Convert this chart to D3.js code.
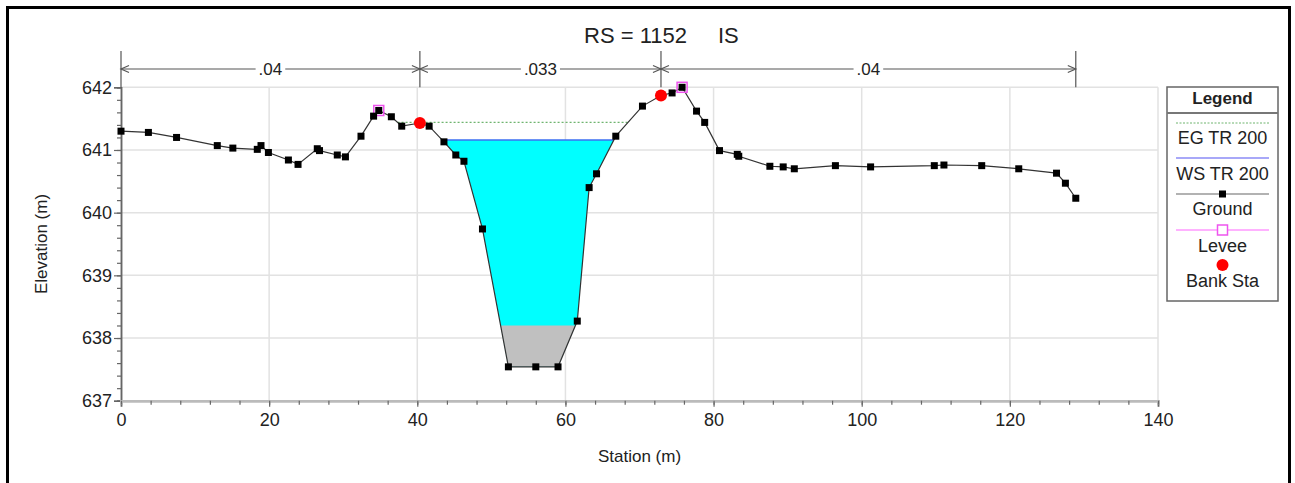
<!DOCTYPE html>
<html>
<head>
<meta charset="utf-8">
<script src="https://cdn.jsdelivr.net/npm/d3@7/dist/d3.min.js"></script>
<style>
  html, body { margin: 0; padding: 0; background: #fff; }
  svg { display: block; }
  text { font-family: "Liberation Sans", Arial, sans-serif; fill: #222; }
</style>
</head>
<body>
<svg id="chart" width="1295" height="483"></svg>
<script>
// ---------- data ----------
const stations = [0, 3.7, 7.5, 13.0, 15.1, 18.4, 18.9, 19.9, 22.6, 23.9, 26.5, 26.8, 29.2, 30.3, 32.4, 34.1, 34.8, 36.5, 37.9, 40.35, 41.6, 43.6, 45.2, 46.3, 48.8, 52.3, 56.0, 59.0, 61.6, 63.2, 64.2, 66.8, 70.4, 72.9, 74.4, 75.75, 77.7, 78.8, 80.8, 83.2, 83.4, 87.6, 89.4, 90.9, 96.45, 101.2, 109.8, 111.1, 116.2, 121.2, 126.3, 127.5, 128.9];
const elevations = [641.30, 641.28, 641.20, 641.07, 641.03, 641.01, 641.07, 640.96, 640.84, 640.77, 641.02, 640.99, 640.92, 640.89, 641.22, 641.54, 641.63, 641.53, 641.38, 641.43, 641.38, 641.13, 640.92, 640.82, 639.74, 637.54, 637.54, 637.54, 638.27, 640.40, 640.62, 641.22, 641.70, 641.87, 641.91, 642.00, 641.62, 641.44, 640.99, 640.93, 640.90, 640.74, 640.73, 640.70, 640.75, 640.73, 640.75, 640.76, 640.75, 640.70, 640.63, 640.47, 640.23];
const leveeStations = [34.8, 75.75];
const leveeElevations = [641.63, 642.00];
const bankStations = [40.35, 72.9];
const bankElevations = [641.43, 641.87];
const wsElevation = 641.16;   // WS TR 200
const egElevation = 641.44;   // EG TR 200
const sedimentElevation = 638.20;
const nBreaks = [0, 40.35, 72.9, 128.9];
const nValues = [".04", ".033", ".04"];
const xTicks = [0, 20, 40, 60, 80, 100, 120, 140];
const yTicks = [637, 638, 639, 640, 641, 642];
const legendLabels = ["EG TR 200", "WS TR 200", "Ground", "Levee", "Bank Sta"];
const titleMain = "RS = 1152";
const titleSuffix = "IS";

// ---------- layout ----------
const svg = d3.select("#chart");
const plotL = 121, plotR = 1158, plotT = 87.3, plotB = 400.7;
const x = d3.scaleLinear().domain([0, 140]).range([plotL, plotR]);
const y = d3.scaleLinear().domain([637, 642]).range([plotB, plotT]);
const ground = stations.map((s, i) => [s, elevations[i]]);

// outer frame
svg.append("rect").attr("x", 7.5).attr("y", 7.5).attr("width", 1282).attr("height", 490)
  .attr("fill", "none").attr("stroke", "#000").attr("stroke-width", 3);

// gridlines
const grid = svg.append("g");
grid.selectAll(".gx").data(xTicks.slice(1)).join("line")
  .attr("x1", d => x(d)).attr("x2", d => x(d)).attr("y1", plotT).attr("y2", plotB)
  .attr("stroke", "#e2e2e2").attr("stroke-width", 1.5);
grid.selectAll(".gy").data(yTicks.slice(1)).join("line")
  .attr("x1", plotL).attr("x2", plotR).attr("y1", d => y(d)).attr("y2", d => y(d))
  .attr("stroke", "#e2e2e2").attr("stroke-width", 1.5);

// crossing helper: from lowest point, search outward for ground reaching a level
const minIdx = d3.minIndex(elevations);
function crossing(level, dir) {
  let i = minIdx;
  while (i + dir >= 0 && i + dir < ground.length && ground[i + dir][1] < level) i += dir;
  const a = ground[i], b = ground[i + dir];
  const t = (level - a[1]) / (b[1] - a[1]);
  return { s: a[0] + t * (b[0] - a[0]), i: i };
}
function poolPolygon(level) {
  const L = crossing(level, -1), R = crossing(level, 1);
  const pts = [[L.s, level]];
  for (let k = L.i; k <= R.i; k++) pts.push(ground[k]);
  pts.push([R.s, level]);
  return { pts, L: L.s, R: R.s };
}
const line = d3.line().x(d => x(d[0])).y(d => y(d[1]));

// water
const water = poolPolygon(wsElevation);
svg.append("path").attr("d", line(water.pts) + "Z").attr("fill", "#00ffff").attr("stroke", "none");
// sediment
const sed = poolPolygon(sedimentElevation);
svg.append("path").attr("d", line(sed.pts) + "Z").attr("fill", "#c0c0c0").attr("stroke", "none");
// WS line
svg.append("line").attr("x1", x(water.L)).attr("x2", x(water.R))
  .attr("y1", y(wsElevation)).attr("y2", y(wsElevation))
  .attr("stroke", "#3d6ef2").attr("stroke-width", 1.5);
// EG line
const egL = crossing(egElevation, -1).s, egR = crossing(egElevation, 1).s;
svg.append("line").attr("x1", x(egL)).attr("x2", x(egR))
  .attr("y1", y(egElevation)).attr("y2", y(egElevation))
  .attr("stroke", "#6fb46f").attr("stroke-width", 1.2).attr("stroke-dasharray", "2,2");

// axes
const axisY = svg.append("g").attr("transform", `translate(${plotL},0)`)
  .call(d3.axisLeft(y).tickValues(yTicks).tickSize(7).tickPadding(2).tickFormat(d3.format("d")));
const axisYMinor = svg.append("g").attr("transform", `translate(${plotL},0)`)
  .call(d3.axisLeft(y).tickValues(d3.range(637, 642.001, 0.2)).tickSize(4).tickFormat(""));
const axisX = svg.append("g").attr("transform", `translate(0,${plotB})`)
  .call(d3.axisBottom(x).tickValues(xTicks).tickSize(6).tickPadding(5).tickFormat(d3.format("d")));
const axisXMinor = svg.append("g").attr("transform", `translate(0,${plotB})`)
  .call(d3.axisBottom(x).tickValues(d3.range(0, 140.001, 4)).tickSize(4).tickFormat(""));
[axisY, axisYMinor].forEach(g => {
  g.select(".domain").attr("stroke", "#666").attr("stroke-width", 1.5);
  g.selectAll(".tick line").attr("stroke", "#666").attr("stroke-width", 1.2);
});
[axisX, axisXMinor].forEach(g => {
  g.select(".domain").attr("stroke", "#bbb").attr("stroke-width", 2.5);
  g.selectAll(".tick line").attr("stroke", "#666").attr("stroke-width", 1.2);
});
svg.selectAll(".tick text").style("font-family", '"Liberation Sans", Arial, sans-serif')
  .style("font-size", "18px").attr("fill", "#222");
axisX.selectAll(".tick text").attr("dy", "0.8em");

// axis titles
svg.append("text").attr("x", (plotL + plotR) / 2).attr("y", 462).attr("text-anchor", "middle")
  .style("font-size", "17px").text("Station (m)");
svg.append("text").attr("transform", `translate(47,${(plotT + plotB) / 2}) rotate(-90)`)
  .attr("text-anchor", "middle").style("font-size", "17px").text("Elevation (m)");

// title
svg.append("text").attr("x", 584).attr("y", 43).style("font-size", "22px").text(titleMain);
svg.append("text").attr("x", 718).attr("y", 43).style("font-size", "22px").text(titleSuffix);

// Manning's n segments
const nG = svg.append("g");
const nY = 69;
nG.append("line").attr("x1", x(nBreaks[0])).attr("x2", x(nBreaks[nBreaks.length - 1]))
  .attr("y1", nY).attr("y2", nY).attr("stroke", "#555").attr("stroke-width", 1.2);
nG.selectAll(".nb").data(nBreaks).join("line")
  .attr("x1", d => x(d)).attr("x2", d => x(d)).attr("y1", 51).attr("y2", plotT)
  .attr("stroke", "#555").attr("stroke-width", 1.2);
nValues.forEach((v, i) => {
  const a = x(nBreaks[i]), b = x(nBreaks[i + 1]);
  nG.append("path").attr("d", `M${a + 8},${nY - 3.5}L${a},${nY}L${a + 8},${nY + 3.5}`)
    .attr("fill", "none").attr("stroke", "#555").attr("stroke-width", 1.2);
  nG.append("path").attr("d", `M${b - 8},${nY - 3.5}L${b},${nY}L${b - 8},${nY + 3.5}`)
    .attr("fill", "none").attr("stroke", "#555").attr("stroke-width", 1.2);
  const t = nG.append("text").attr("x", (a + b) / 2).attr("y", nY + 6).attr("text-anchor", "middle")
    .style("font-size", "17px").text(v);
  const bb = t.node().getBBox();
  nG.insert("rect", "text").attr("x", bb.x - 3).attr("y", nY - 2).attr("width", bb.width + 6)
    .attr("height", 4).attr("fill", "#fff");
});

// ground line + markers
svg.append("path").attr("d", line(ground)).attr("fill", "none")
  .attr("stroke", "#333").attr("stroke-width", 1.2);
svg.selectAll(".lev").data(leveeStations).join("rect")
  .attr("x", (d) => x(d) - 5).attr("y", (d, i) => y(leveeElevations[i]) - 5)
  .attr("width", 10).attr("height", 10).attr("fill", "none")
  .attr("stroke", "#ee55ee").attr("stroke-width", 1.5);
svg.selectAll(".gp").data(ground).join("rect")
  .attr("x", d => x(d[0]) - 3.5).attr("y", d => y(d[1]) - 3.5)
  .attr("width", 7).attr("height", 7).attr("fill", "#000");
svg.selectAll(".bank").data(bankStations).join("circle")
  .attr("cx", d => x(d)).attr("cy", (d, i) => y(bankElevations[i])).attr("r", 6)
  .attr("fill", "#ff0000");

// legend
const lg = svg.append("g");
const lx0 = 1167, lx1 = 1278, ly0 = 87, ly1 = 301;
lg.append("rect").attr("x", lx0).attr("y", ly0).attr("width", lx1 - lx0).attr("height", ly1 - ly0)
  .attr("fill", "#fff").attr("stroke", "#666").attr("stroke-width", 1.5);
lg.append("line").attr("x1", lx0).attr("x2", lx1).attr("y1", 113).attr("y2", 113)
  .attr("stroke", "#777").attr("stroke-width", 2);
lg.append("text").attr("x", (lx0 + lx1) / 2).attr("y", 104).attr("text-anchor", "middle")
  .style("font-size", "17px").style("font-weight", "bold").text("Legend");
const sx0 = 1176, sx1 = 1269, lcx = (lx0 + lx1) / 2;
const rowLineY = [123, 158, 194, 230, 265];
const rowTextY = [144, 180, 215, 252, 287];
legendLabels.forEach((lab, i) => {
  lg.append("text").attr("x", lcx).attr("y", rowTextY[i]).attr("text-anchor", "middle")
    .style("font-size", "18px").text(lab);
});
lg.append("line").attr("x1", sx0).attr("x2", sx1).attr("y1", rowLineY[0]).attr("y2", rowLineY[0])
  .attr("stroke", "#6fb46f").attr("stroke-width", 1).attr("stroke-dasharray", "2,1.5");
lg.append("line").attr("x1", sx0).attr("x2", sx1).attr("y1", rowLineY[1]).attr("y2", rowLineY[1])
  .attr("stroke", "#a8a8f8").attr("stroke-width", 2);
lg.append("line").attr("x1", sx0).attr("x2", sx1).attr("y1", rowLineY[2]).attr("y2", rowLineY[2])
  .attr("stroke", "#999").attr("stroke-width", 1.5);
lg.append("rect").attr("x", lcx - 3.5).attr("y", rowLineY[2] - 3.5).attr("width", 7).attr("height", 7).attr("fill", "#000");
lg.append("line").attr("x1", sx0).attr("x2", sx1).attr("y1", rowLineY[3]).attr("y2", rowLineY[3])
  .attr("stroke", "#ff99ff").attr("stroke-width", 1.5);
lg.append("rect").attr("x", lcx - 5).attr("y", rowLineY[3] - 5).attr("width", 10).attr("height", 10)
  .attr("fill", "#fff").attr("stroke", "#ee55ee").attr("stroke-width", 1.5);
lg.append("circle").attr("cx", lcx).attr("cy", rowLineY[4]).attr("r", 6).attr("fill", "#ff0000");
</script>
</body>
</html>
